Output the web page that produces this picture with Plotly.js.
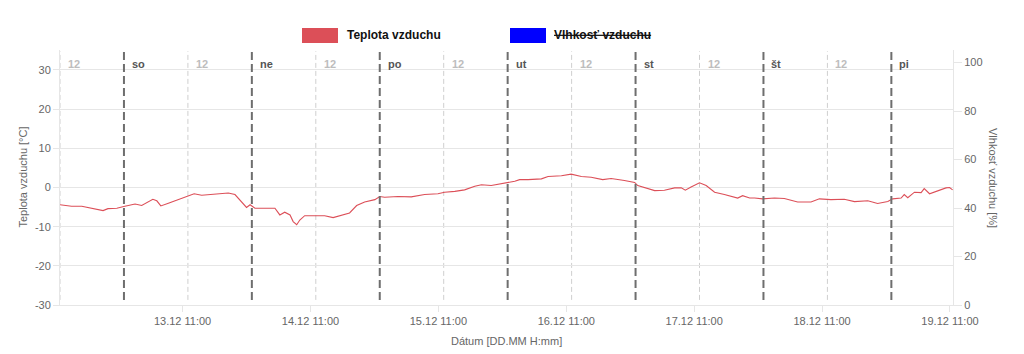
<!DOCTYPE html>
<html>
<head>
<meta charset="utf-8">
<script src="https://cdn.plot.ly/plotly-3.0.1.min.js"></script>
<style>html,body{margin:0;padding:0;background:#fff;}#chart{width:1024px;height:354px;}</style>
</head>
<body>
<div id="chart"></div>
<script>
// ---- data ----
const tempTimes = [
 '2025-12-12 12:00','2025-12-12 14:10','2025-12-12 16:05','2025-12-12 17:55','2025-12-12 20:05','2025-12-12 21:00','2025-12-12 22:40',
 '2025-12-13 00:10','2025-12-13 02:05','2025-12-13 03:20','2025-12-13 05:25','2025-12-13 06:10','2025-12-13 06:55','2025-12-13 08:20','2025-12-13 10:10',
 '2025-12-13 12:05','2025-12-13 13:10','2025-12-13 14:35','2025-12-13 16:25','2025-12-13 18:20','2025-12-13 19:35','2025-12-13 20:50','2025-12-13 22:05','2025-12-13 23:00','2025-12-13 23:40',
 '2025-12-14 00:35','2025-12-14 02:25','2025-12-14 04:20','2025-12-14 05:15','2025-12-14 06:10','2025-12-14 07:10','2025-12-14 07:45','2025-12-14 08:25','2025-12-14 09:00','2025-12-14 09:55',
 '2025-12-14 11:50','2025-12-14 13:40','2025-12-14 15:15','2025-12-14 16:50','2025-12-14 18:20','2025-12-14 19:40','2025-12-14 21:10','2025-12-14 23:05',
 '2025-12-15 00:00','2025-12-15 00:55','2025-12-15 03:25','2025-12-15 05:55','2025-12-15 08:25','2025-12-15 10:55','2025-12-15 12:10','2025-12-15 14:05','2025-12-15 15:55','2025-12-15 17:50','2025-12-15 19:05','2025-12-15 20:55','2025-12-15 22:50',
 '2025-12-16 00:05','2025-12-16 01:20','2025-12-16 02:15','2025-12-16 03:50','2025-12-16 06:20','2025-12-16 07:35','2025-12-16 10:05','2025-12-16 11:55','2025-12-16 13:50','2025-12-16 15:40','2025-12-16 17:50','2025-12-16 19:25','2025-12-16 21:55','2025-12-16 23:50',
 '2025-12-17 00:25','2025-12-17 02:00','2025-12-17 03:35','2025-12-17 05:25','2025-12-17 07:20','2025-12-17 08:35','2025-12-17 09:20','2025-12-17 10:25','2025-12-17 12:00','2025-12-17 13:15','2025-12-17 14:50','2025-12-17 16:40','2025-12-17 19:10','2025-12-17 20:05','2025-12-17 21:25','2025-12-17 22:20','2025-12-17 23:50',
 '2025-12-18 02:05','2025-12-18 03:55','2025-12-18 06:25','2025-12-18 08:55','2025-12-18 10:30','2025-12-18 12:40','2025-12-18 15:10','2025-12-18 17:05','2025-12-18 19:35','2025-12-18 21:25','2025-12-18 23:20',
 '2025-12-19 00:15','2025-12-19 01:50','2025-12-19 02:25','2025-12-19 03:05','2025-12-19 04:20','2025-12-19 05:35','2025-12-19 06:10','2025-12-19 07:10','2025-12-19 08:40','2025-12-19 10:15','2025-12-19 10:55','2025-12-19 11:30'
];
const tempValues = [
 -4.4,-4.8,-4.8,-5.3,-5.9,-5.4,-5.3,
 -4.8,-4.2,-4.6,-3.0,-3.4,-4.7,-4.0,-3.1,
 -2.3,-1.6,-2.0,-1.8,-1.6,-1.4,-1.8,-3.6,-5.1,-4.4,
 -5.3,-5.3,-5.3,-7.0,-6.3,-7.0,-8.7,-9.5,-8.3,-7.2,
 -7.2,-7.2,-7.7,-7.0,-6.5,-4.6,-3.7,-3.1,
 -2.3,-2.5,-2.3,-2.4,-1.8,-1.6,-1.2,-1.0,-0.6,0.3,0.7,0.5,0.9,
 1.2,1.6,2.0,2.0,2.2,2.8,3.0,3.4,2.8,2.6,2.0,2.3,1.8,1.3,
 0.5,-0.1,-0.8,-0.7,-0.1,-0.1,-0.7,0.1,1.2,0.5,-1.2,-1.8,-2.7,-2.1,-2.7,-2.7,-2.9,
 -2.7,-2.8,-3.7,-3.7,-2.9,-3.1,-3.0,-3.6,-3.4,-4.1,-3.6,
 -2.9,-2.7,-1.8,-2.6,-1.2,-1.3,-0.3,-1.6,-0.8,-0.1,0.0,-0.6
];
const humidityTimes = [];   // hidden series (struck through in legend)
const humidityValues = [];

const dayStarts = ['2025-12-13','2025-12-14','2025-12-15','2025-12-16','2025-12-17','2025-12-18','2025-12-19'];
const dayNames = ['so','ne','po','ut','st','št','pi'];
const noonTimes = ['2025-12-12 12:00','2025-12-13 12:00','2025-12-14 12:00','2025-12-15 12:00','2025-12-16 12:00','2025-12-17 12:00','2025-12-18 12:00'];
const noonLabel = '12';
const xTickVals = ['2025-12-13 11:00','2025-12-14 11:00','2025-12-15 11:00','2025-12-16 11:00','2025-12-17 11:00','2025-12-18 11:00','2025-12-19 11:00'];
const xTickText = ['13.12 11:00','14.12 11:00','15.12 11:00','16.12 11:00','17.12 11:00','18.12 11:00','19.12 11:00'];
const yTicks = [-30,-20,-10,0,10,20,30];
const yTickText = ['-30','-20','-10','0','10','20','30'];
const y2Ticks = [0,20,40,60,80,100];

const seriesNames = ['Teplota vzduchu','Vlhkosť vzduchu'];
const seriesColors = ['#dc4f58','#0000ff'];

// ---- chart ----
const FONT = 'Liberation Sans, Arial, Helvetica, sans-serif';
const GRAY = '#666666';
const GRID = '#e6e6e6';

const traces = [
 {x: tempTimes, y: tempValues, type:'scatter', mode:'lines', name: seriesNames[0],
  line:{color: seriesColors[0], width:1.1}, hoverinfo:'skip', showlegend:false},
 {x: humidityTimes, y: humidityValues, type:'scatter', mode:'lines', name: seriesNames[1], yaxis:'y2',
  line:{color: seriesColors[1], width:1.2}, showlegend:false}
];

const shapes = [];
const annotations = [];
noonTimes.forEach(t => {
  shapes.push({type:'line', xref:'x', yref:'paper', x0:t, x1:t, y0:0.02, y1:0.995,
    line:{color:'#cfcfcf', width:1, dash:'5px,3px'}, layer:'below'});
  annotations.push({x:t, xref:'x', y:0.945, yref:'paper', text:'<b>'+noonLabel+'</b>', showarrow:false,
    xanchor:'left', yanchor:'middle', xshift:6, font:{family:FONT, size:11, color:'#bdbdbd'}});
});
dayStarts.forEach((d,i) => {
  shapes.push({type:'line', xref:'x', yref:'paper', x0:d, x1:d, y0:0.02, y1:0.995,
    line:{color:'#6e6e6e', width:2, dash:'8px,4px'}});
  annotations.push({x:d, xref:'x', y:0.945, yref:'paper', text:'<b>'+dayNames[i]+'</b>', showarrow:false,
    xanchor:'left', yanchor:'middle', xshift:6, font:{family:FONT, size:11, color:'#555'}});
});

// custom legend (paper coords: plot spans x 60..953, y 50..305 px)
const px = v => (v-60)/893, py = v => (305-v)/255;
shapes.push({type:'rect', xref:'paper', yref:'paper', x0:px(302), x1:px(338), y0:py(43), y1:py(28),
  fillcolor:seriesColors[0], line:{width:0}});
shapes.push({type:'rect', xref:'paper', yref:'paper', x0:px(510), x1:px(546), y0:py(43), y1:py(28),
  fillcolor:seriesColors[1], line:{width:0}});
annotations.push({xref:'paper', yref:'paper', x:px(345), y:py(35.5), xanchor:'left', yanchor:'middle',
  text:'<b>'+seriesNames[0]+'</b>', showarrow:false, font:{family:FONT, size:12, color:'#111'}});
annotations.push({xref:'paper', yref:'paper', x:px(552), y:py(35.5), xanchor:'left', yanchor:'middle',
  text:'<s><b>'+seriesNames[1]+'</b></s>', showarrow:false, font:{family:FONT, size:12, color:'#111'}});

// axis titles
annotations.push({xref:'paper', yref:'paper', x:px(506), y:py(341), text:'Dátum [DD.MM H:mm]', showarrow:false,
  xanchor:'center', yanchor:'middle', font:{family:FONT, size:11, color:GRAY}});
annotations.push({xref:'paper', yref:'paper', x:px(22), y:py(177.5), text:'Teplota vzduchu [°C]', showarrow:false,
  textangle:-90, xanchor:'center', yanchor:'middle', font:{family:FONT, size:11, color:GRAY}});
annotations.push({xref:'paper', yref:'paper', x:px(993), y:py(178), text:'Vlhkosť vzduchu [%]', showarrow:false,
  textangle:90, xanchor:'center', yanchor:'middle', font:{family:FONT, size:11, color:GRAY}});

const layout = {
  width:1024, height:354,
  margin:{l:60, r:71, t:50, b:49, pad:0},
  paper_bgcolor:'#fff', plot_bgcolor:'#fff',
  font:{family:FONT, size:11, color:GRAY},
  showlegend:false,
  xaxis:{type:'date', range:['2025-12-12 12:00','2025-12-19 11:34'], tickvals:xTickVals, ticktext:xTickText,
    showgrid:false, zeroline:false, ticks:'outside', ticklen:6, tickcolor:GRID, showline:true, linecolor:GRID,
    tickfont:{family:FONT, size:11, color:GRAY}},
  yaxis:{range:[-30,35.1], tickvals:yTicks, ticktext:yTickText, showgrid:true, gridcolor:GRID, zeroline:false,
    ticks:'outside', ticklen:6, tickcolor:GRID, showline:true, linecolor:GRID,
    tickfont:{family:FONT, size:11, color:GRAY}},
  yaxis2:{range:[0,105.2], tickvals:y2Ticks, overlaying:'y', side:'right', showgrid:false, zeroline:false,
    ticks:'outside', ticklen:8, tickcolor:GRID, showline:true, linecolor:GRID,
    tickfont:{family:FONT, size:11, color:GRAY}},
  shapes:shapes, annotations:annotations
};

Plotly.newPlot('chart', traces, layout, {staticPlot:true, displayModeBar:false});
</script>
</body>
</html>
